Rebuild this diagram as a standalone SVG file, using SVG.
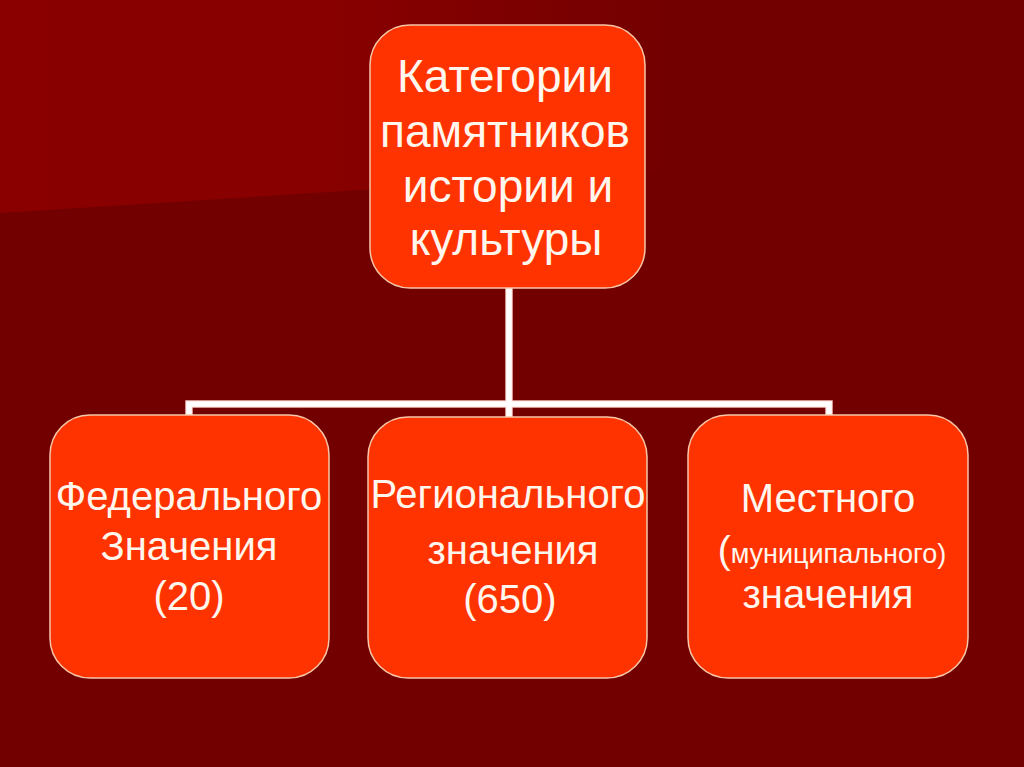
<svg xmlns="http://www.w3.org/2000/svg" width="1024" height="767" viewBox="0 0 1024 767">
<defs>
<linearGradient id="bg" x1="0" y1="0" x2="1" y2="0">
<stop offset="0" stop-color="#8a0000"/>
<stop offset="0.5" stop-color="#880000"/>
<stop offset="1" stop-color="#740000"/>
</linearGradient>
</defs>
<style>
.node rect{fill:#ff3300;stroke:#f6c6a8;stroke-width:1.5}
.node text{font-family:"Liberation Sans",Arial,sans-serif;fill:#fff6ee;text-anchor:middle}
.t{font-size:46px}
.b{font-size:40px}
.conn path{fill:none;stroke-linejoin:miter}
</style>
<rect width="1024" height="767" fill="#720000"/>
<polygon points="0,0 660,0 660,171 0,213" fill="url(#bg)"/>
<g class="conn" id="connectors">
<path d="M509,288 V404 M189,416 V404 H829 V416 M509,404 V418" stroke="#f2c4bc" stroke-width="7.5"/>
<path d="M509,288 V404 M189,416 V404 H829 V416 M509,404 V418" stroke="#ffffff" stroke-width="5.5"/>
</g>
<g class="node" id="root">
<rect x="370" y="25" width="275" height="263" rx="40"/>
<text class="t" x="505" y="92">Категории</text>
<text class="t" x="505" y="147">памятников</text>
<text class="t" x="508" y="202">истории и</text>
<text class="t" x="506" y="255">культуры</text>
</g>
<g class="node" id="federal">
<rect x="50" y="415" width="279" height="263" rx="40"/>
<text class="b" x="189" y="510">Федерального</text>
<text class="b" x="189" y="560">Значения</text>
<text class="b" x="189" y="610">(20)</text>
</g>
<g class="node" id="regional">
<rect x="368" y="417" width="279" height="261" rx="40"/>
<text class="b" x="508" y="508">Регионального</text>
<text class="b" x="513" y="564">значения</text>
<text class="b" x="510" y="613">(650)</text>
</g>
<g class="node" id="local">
<rect x="688" y="415" width="280" height="263" rx="40"/>
<text class="b" x="828" y="512">Местного</text>
<text x="832" y="563"><tspan font-size="39px">(</tspan><tspan font-size="27px">муниципального)</tspan></text>
<text class="b" x="828" y="608">значения</text>
</g>
</svg>
